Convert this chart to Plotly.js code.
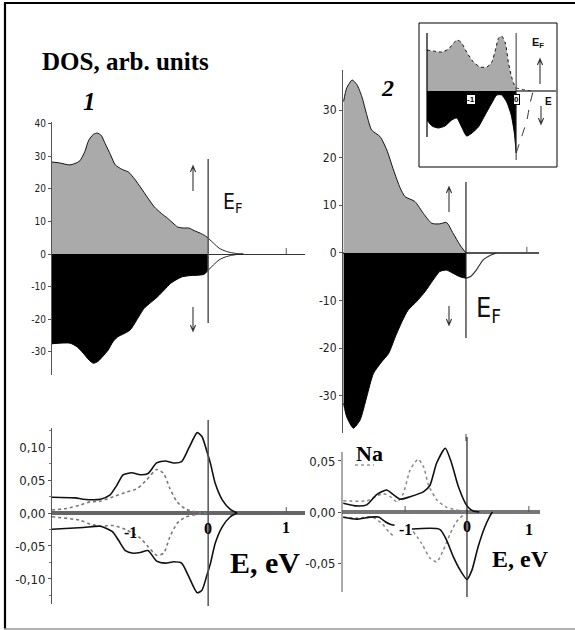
<!DOCTYPE html>
<html><head><meta charset="utf-8">
<script src="https://cdn.plot.ly/plotly-3.0.1.min.js"></script>
<style>html,body{margin:0;padding:0;background:#fff}#c{width:575px;height:630px}</style>
</head><body><div id="c"></div>
<script>
// ---------- data ----------
// Panel 1 (top-left), spin up (filled grey) up to E_F, then tail
const E1u = [-2.0,-1.9,-1.77,-1.65,-1.58,-1.53,-1.47,-1.42,-1.37,-1.32,-1.25,-1.19,-1.1,-1.02,-0.94,-0.86,-0.78,-0.69,-0.6,-0.52,-0.45,-0.39,-0.32,-0.25,-0.18,-0.1,-0.05,0];
const D1u = [28.3,28.0,27.4,28.5,31.5,35.0,36.8,37.2,36.5,34.0,30.5,27.4,26.0,25.2,23.0,20.3,17.5,14.5,12.5,11.0,9.5,8.3,8.0,8.0,7.2,6.4,5.8,4.9];
const E1uT = [0,0.07,0.14,0.22,0.3,0.38,0.45];
const D1uT = [4.9,3.3,1.8,0.9,0.4,0.1,0];
const E1d = [-2.0,-1.9,-1.77,-1.68,-1.6,-1.53,-1.47,-1.41,-1.35,-1.28,-1.22,-1.16,-1.08,-1.0,-0.92,-0.82,-0.74,-0.65,-0.56,-0.48,-0.4,-0.33,-0.22,-0.12,-0.05,0];
const D1d = [-27.6,-27.4,-27.4,-28.5,-30.5,-32.5,-33.6,-33.0,-31.5,-29.5,-27.0,-25.5,-24.5,-23.4,-20.5,-16.7,-15.0,-13.2,-11.0,-9.0,-7.8,-7.0,-6.6,-6.5,-6.2,-5.0];
const E1dT = [0,0.07,0.14,0.22,0.3,0.38,0.45];
const D1dT = [-5.0,-3.3,-1.8,-0.9,-0.4,-0.1,0];
const P1tickVals = [40,30,20,10,0,-10,-20,-30];
const P1tickText = ["40","30","20","10","0","-10","-20","-30"];

// Panel 2 (top-right)
const E2u = [-2.01,-1.96,-1.87,-1.79,-1.71,-1.63,-1.55,-1.41,-1.30,-1.19,-1.08,-1.0,-0.84,-0.70,-0.56,-0.43,-0.32,-0.21,-0.10,0];
const D2u = [31.8,34.6,36.3,35.3,32.8,29.0,25.8,24.4,21.6,17.4,13.6,11.8,10.8,8.3,6.2,6.1,6.4,4.1,1.7,0];
const E2d = [-2.01,-1.96,-1.85,-1.74,-1.63,-1.52,-1.38,-1.27,-1.16,-1.05,-0.95,-0.81,-0.67,-0.54,-0.43,-0.32,-0.21,-0.10,0];
const D2d = [-31.6,-34.4,-36.8,-35.1,-30.2,-25.3,-22.8,-21.1,-17.6,-14.4,-12.0,-10.2,-8.1,-5.7,-3.9,-3.6,-4.3,-5.0,-5.3];
const E2dT = [0,0.07,0.17,0.28,0.42,0.5];
const D2dT = [-5.3,-5.0,-3.6,-1.5,-0.4,0];
const P2tickVals = [30,20,10,0,-10,-20,-30];
const P2tickText = ["30","20","10","0","-10","-20","-30"];

// Inset (arbitrary units)
const E3u = [-1.98,-1.84,-1.65,-1.50,-1.39,-1.30,-1.21,-1.10,-0.95,-0.80,-0.65,-0.54,-0.45,-0.39,-0.32,-0.24,-0.17,-0.10,-0.04,0];
const D3u = [41,40,39,42,48,51,48,39,29,24,24,29,43,53,55,48,28,14,6,3];
const E3uT = [0,0.1,0.2,0.35];
const D3uT = [3,2,1,0];
const E3d = [-1.98,-1.87,-1.73,-1.58,-1.43,-1.32,-1.21,-1.10,-0.98,-0.84,-0.69,-0.54,-0.43,-0.32,-0.21,-0.11,-0.04,0];
const D3d = [-29,-35,-37,-35,-29,-27,-36,-45,-42,-36,-24,-12,-4,-4,-11,-24,-42,-62];
const E3dT = [0,0.12,0.24,0.31,0.38];
const D3dT = [-62,-46,-29,-12,0];

// Panel 3 (bottom-left)
const E4su = [-2.0,-1.7,-1.6,-1.38,-1.26,-1.17,-1.09,-0.98,-0.87,-0.77,-0.66,-0.55,-0.44,-0.34,-0.25,-0.14,-0.08,-0.02,0.03,0.09,0.18,0.28,0.37];
const D4su = [0.024,0.023,0.021,0.021,0.027,0.042,0.058,0.061,0.058,0.060,0.076,0.079,0.076,0.078,0.098,0.122,0.116,0.095,0.075,0.045,0.020,0.006,0];
const E4du = [-2.0,-1.81,-1.64,-1.51,-1.38,-1.21,-1.04,-0.91,-0.79,-0.66,-0.57,-0.49,-0.40,-0.29,-0.17,-0.02];
const D4du = [0.0045,0.007,0.012,0.017,0.018,0.025,0.032,0.037,0.050,0.066,0.060,0.037,0.017,0.006,0.002,0];
const E4sd = [-2.0,-1.6,-1.38,-1.23,-1.15,-1.06,-0.96,-0.87,-0.77,-0.66,-0.55,-0.44,-0.34,-0.25,-0.14,-0.08,-0.02,0.03,0.09,0.18,0.28,0.37];
const D4sd = [-0.0247,-0.022,-0.020,-0.028,-0.041,-0.057,-0.061,-0.060,-0.057,-0.073,-0.076,-0.074,-0.076,-0.096,-0.121,-0.117,-0.096,-0.076,-0.046,-0.021,-0.006,0];
const E4dd = [-2.0,-1.64,-1.51,-1.38,-1.21,-1.04,-0.87,-0.77,-0.66,-0.57,-0.49,-0.40,-0.29,-0.14,-0.02];
const D4dd = [-0.0056,-0.011,-0.017,-0.020,-0.019,-0.026,-0.038,-0.051,-0.064,-0.061,-0.036,-0.016,-0.006,-0.002,0];
const P4tickVals = [0.10,0.05,0,-0.05,-0.10];
const P4tickText = ["0,10","0,05","0,00","-0,05","-0,10"];

// Panel 4 (bottom-right)
const E5su = [-2.0,-1.81,-1.62,-1.46,-1.30,-1.19,-1.08,-0.92,-0.70,-0.60,-0.49,-0.35,-0.25,-0.14,0,0.1,0.2];
const D5su = [0.0085,0.006,0.007,0.017,0.0216,0.017,0.0125,0.015,0.020,0.026,0.048,0.0625,0.048,0.025,0.006,0.001,0];
const E5du = [-2.0,-1.62,-1.48,-1.35,-1.24,-1.13,-1.03,-0.92,-0.79,-0.70,-0.62,-0.49,-0.33,-0.16,0];
const D5du = [0.011,0.011,0.015,0.018,0.015,0.010,0.018,0.041,0.0517,0.044,0.026,0.012,0.0046,0.002,0];
const E5sd = [-2.0,-1.79,-1.56,-1.43,-1.32,-1.24,-1.17,null,-0.89,-0.44,-0.33,-0.22,-0.11,0,0.08,0.18,0.29,0.37,0.41];
const D5sd = [-0.0052,-0.007,-0.005,-0.005,-0.0095,-0.012,-0.013,null,-0.0167,-0.017,-0.0275,-0.044,-0.057,-0.066,-0.057,-0.034,-0.0144,-0.004,0];
const E5dd = [-2.0,-1.79,-1.53,-1.38,-1.27,-1.19,null,-0.87,-0.73,-0.60,-0.49,-0.38,-0.27,-0.17,-0.06,0];
const D5dd = [-0.005,-0.006,-0.005,-0.011,-0.019,-0.0235,null,-0.019,-0.031,-0.045,-0.049,-0.037,-0.021,-0.0095,-0.003,0];
const P5tickVals = [0.05,0,-0.05];
const P5tickText = ["0,05","0,00","-0,05"];

const Eticks = [-1,0,1];
const EtickText = ["-1","0","1"];

// ---------- layout helpers ----------
const W=575,H=630;
const px = v => v/W;
const py = v => 1 - v/H;
const SERIF = "Liberation Serif, Times New Roman, serif";
const NARROW = "Liberation Sans Narrow, Arial Narrow, DejaVu Sans Condensed, sans-serif";
const SANS = "Liberation Sans, Arial, sans-serif";

function xa(d0,d1,r,anchor){return {domain:[px(d0),px(d1)],range:r,visible:false,anchor:anchor,fixedrange:true};}
function ya(d0,d1,r,anchor,opts){
  return Object.assign({domain:[py(d1),py(d0)],range:r,anchor:anchor,showgrid:false,showline:true,
    linecolor:'#555',linewidth:1,ticks:'outside',ticklen:3,tickcolor:'#555',
    zeroline:true,zerolinecolor:'#444',zerolinewidth:1,fixedrange:true},opts||{});
}
function ln(x,y,xa_,ya_,color,width,dash,fill,fillcolor){
  const t={x:x,y:y,xaxis:xa_,yaxis:ya_,mode:'lines',hoverinfo:'skip',showlegend:false,connectgaps:false,
    line:{color:color,width:width,dash:dash||'solid',shape:'spline',smoothing:0.6}};
  if(fill){t.fill='tozeroy';t.fillcolor=fillcolor;}
  return t;
}

const traces = [
  ln(E1u,D1u,'x','y','#111',1,'solid',true,'#aaaaaa'),
  ln(E1uT,D1uT,'x','y','#222',1),
  ln(E1d,D1d,'x','y','#000',1,'solid',true,'#000000'),
  ln(E1dT,D1dT,'x','y','#222',1),
  ln(E2u,D2u,'x2','y2','#111',1,'solid',true,'#aaaaaa'),
  ln(E2d,D2d,'x2','y2','#000',1,'solid',true,'#000000'),
  ln(E2dT,D2dT,'x2','y2','#333',1.2),
  ln(E3u,D3u,'x3','y3','#111',1,'dot',true,'#aaaaaa'),
  ln(E3uT,D3uT,'x3','y3','#333',1,'dot'),
  ln(E3d,D3d,'x3','y3','#000',1,'solid',true,'#000000'),
  ln(E3dT,D3dT,'x3','y3','#333',1,'dash'),
  ln(E4du,D4du,'x4','y4','#777',1.6,'dot'),
  ln(E4dd,D4dd,'x4','y4','#777',1.6,'dot'),
  ln(E4su,D4su,'x4','y4','#111',1.6),
  ln(E4sd,D4sd,'x4','y4','#111',1.6),
  ln(E5du,D5du,'x5','y5','#888',1.5,'dot'),
  ln(E5dd,D5dd,'x5','y5','#888',1.5,'dot'),
  ln(E5su,D5su,'x5','y5','#111',1.6),
  ln(E5sd,D5sd,'x5','y5','#111',1.6),
];

const tickfont1 = {family:NARROW,size:10,color:'#222'};
const tickfont2 = {family:NARROW,size:12,color:'#222'};
const tickfont4 = {family:NARROW,size:13,color:'#222'};

const layout = {
  width:W,height:H,margin:{l:0,r:0,t:0,b:0},
  paper_bgcolor:'#fff',plot_bgcolor:'rgba(0,0,0,0)',showlegend:false,
  xaxis: xa(52,305,[-2.0,1.24],'y'),
  yaxis: ya(122,375,[-37.2,40.6],'x',{tickvals:P1tickVals,ticktext:P1tickText,tickfont:tickfont1,zerolinecolor:'#333'}),
  xaxis2: xa(343,539,[-2.02,1.2],'y2'),
  yaxis2: ya(70,433,[-37.8,38.4],'x2',{tickvals:P2tickVals,ticktext:P2tickText,tickfont:tickfont2,zerolinecolor:'#555',zerolinewidth:1.5}),
  xaxis3: xa(427,558,[-1.98,0.93],'y3'),
  yaxis3: ya(24,167,[-76,67],'x3',{showline:false,ticks:'',showticklabels:false,zerolinecolor:'#777',zerolinewidth:2.5}),
  xaxis4: xa(52,305,[-2.0,1.24],'y4'),
  yaxis4: ya(428,604,[-0.138,0.129],'x4',{tickvals:P4tickVals,ticktext:P4tickText,tickfont:tickfont4,
     zerolinecolor:'#666',zerolinewidth:3.5,minor:{dtick:0.025,ticks:'outside',ticklen:2,tickcolor:'#777'}}),
  xaxis5: xa(342,540,[-2.02,1.18],'y5'),
  yaxis5: ya(437,597,[-0.0833,0.0735],'x5',{showline:false,tickvals:P5tickVals,ticktext:P5tickText,tickfont:tickfont4,
     zerolinecolor:'#777',zerolinewidth:3.5}),
  shapes:[],
  annotations:[]
};

const S = layout.shapes, A = layout.annotations;
// outer frame
S.push({type:'line',xref:'paper',yref:'paper',x0:px(4),x1:1,y0:py(3),y1:py(3),line:{color:'#000',width:2.2}});
S.push({type:'line',xref:'paper',yref:'paper',x0:px(5),x1:px(5),y0:py(3),y1:py(629),line:{color:'#000',width:2.2}});
S.push({type:'line',xref:'paper',yref:'paper',x0:px(4),x1:1,y0:py(629),y1:py(629),line:{color:'#999',width:1.5}});
// inset box and axis
S.push({type:'rect',xref:'paper',yref:'paper',x0:px(419),x1:px(557),y0:py(167),y1:py(23),line:{color:'#000',width:1},fillcolor:'rgba(255,255,255,0)',layer:'below'});
S.push({type:'line',xref:'paper',yref:'paper',x0:px(427),x1:px(427),y0:py(33),y1:py(137),line:{color:'#000',width:1.2}});
// bottom-right y axis line (shorter than plotting area)
S.push({type:'line',xref:'paper',yref:'paper',x0:px(342),x1:px(342),y0:py(452),y1:py(592),line:{color:'#555',width:1}});
// E_F vertical lines
S.push({type:'line',xref:'x',yref:'paper',x0:0,x1:0,y0:py(159),y1:py(323),line:{color:'#555',width:1.5},layer:'above'});
S.push({type:'line',xref:'x2',yref:'paper',x0:0,x1:0,y0:py(182),y1:py(338),line:{color:'#222',width:1.2},layer:'above'});
S.push({type:'line',xref:'x2',yref:'paper',x0:0,x1:0,y0:py(434),y1:py(441),line:{color:'#444',width:1},layer:'above'});
S.push({type:'line',xref:'x3',yref:'paper',x0:0,x1:0,y0:py(33),y1:py(160),line:{color:'#333',width:1},layer:'above'});
S.push({type:'line',xref:'x4',yref:'paper',x0:0,x1:0,y0:py(420),y1:py(606),line:{color:'#555',width:1.5},layer:'above'});
S.push({type:'line',xref:'x5',yref:'paper',x0:0,x1:0,y0:py(437),y1:py(597),line:{color:'#222',width:1.2},layer:'above'});
// small ticks on zero lines
[['x','y',[1]],['x2','y2',[1]],['x4','y4',[1]],['x5','y5',[-1,1]]].forEach(([xr,yr,vals])=>{
  vals.forEach(v=>S.push({type:'line',xref:xr,yref:yr,ysizemode:'pixel',yanchor:0,x0:v,x1:v,y0:0,y1:6,line:{color:'#555',width:1}}));
});
// Na legend sample
S.push({type:'line',xref:'paper',yref:'paper',x0:px(355),x1:px(374),y0:py(465),y1:py(465),line:{color:'#999',width:1.3,dash:'dot'}});
// spin arrows (drawn as paths)
function arrow(x,yTip,yTail){
  const s = yTail>yTip?1:-1;
  const p = `M ${px(x)},${py(yTail)} L ${px(x)},${py(yTip)} M ${px(x-2.6)},${py(yTip+s*6)} L ${px(x)},${py(yTip)} L ${px(x+2.6)},${py(yTip+s*6)}`;
  S.push({type:'path',xref:'paper',yref:'paper',path:p,line:{color:'#333',width:1.1}});
}
arrow(193,166,191);
arrow(193,331,307);
arrow(449,187,212);
arrow(449,325,306);
arrow(540,59,84);
arrow(541,124,106);

function txt(x,y,text,font,opts){
  A.push(Object.assign({xref:'paper',yref:'paper',x:px(x),y:py(y),text:text,showarrow:false,font:font,xanchor:'center',yanchor:'middle'},opts||{}));
}
txt(40,62,'<b>DOS, arb. units</b>',{family:SERIF,size:25,color:'#000'},{xanchor:'left'});
txt(89,102,'<b><i>1</i></b>',{family:SERIF,size:25,color:'#000'});
txt(387,88,'<b><i>2</i></b>',{family:SERIF,size:24,color:'#000'});
txt(221,203,'E<sub>F</sub>',{family:NARROW,size:21,color:'#111'},{xanchor:'left'});
txt(474,309,'E<sub>F</sub>',{family:NARROW,size:27,color:'#111'},{xanchor:'left'});
txt(530,43,'<b>E<sub>F</sub></b>',{family:SANS,size:11,color:'#111'},{xanchor:'left'});
txt(548,102,'<b>E</b>',{family:SANS,size:10,color:'#111'});
txt(265,562,'<b>E, eV</b>',{family:SERIF,size:30,color:'#000'});
txt(520,559,'<b>E, eV</b>',{family:SERIF,size:24,color:'#000'});
txt(369,453,'<b>Na</b>',{family:SERIF,size:22,color:'#000'});
// bottom energy tick labels
const yLab4=[532,528,527], yLab5=[529,526,529];
Eticks.forEach((v,i)=>{
  A.push({xref:'x4',yref:'paper',x:v,y:py(yLab4[i]),text:'<b>'+EtickText[i]+'</b>',showarrow:false,
    font:{family:SERIF,size:16,color:'#000'},xanchor:'center',yanchor:'middle'});
  A.push({xref:'x5',yref:'paper',x:v,y:py(yLab5[i]),text:'<b>'+EtickText[i]+'</b>',showarrow:false,
    font:{family:SERIF,size:16,color:'#000'},xanchor:'center',yanchor:'middle'});
});
// inset boxed labels
[[-1,'-1'],[0,'0']].forEach(([v,t])=>{
  A.push({xref:'x3',yref:'paper',x:v,y:py(99),text:'<b>'+t+'</b>',showarrow:false,
    font:{family:SANS,size:8,color:'#000'},bgcolor:'#fff',bordercolor:'#000',borderwidth:1,borderpad:0,
    xanchor:'center',yanchor:'middle'});
});

Plotly.newPlot('c',traces,layout,{staticPlot:true,displayModeBar:false});
</script></body></html>
